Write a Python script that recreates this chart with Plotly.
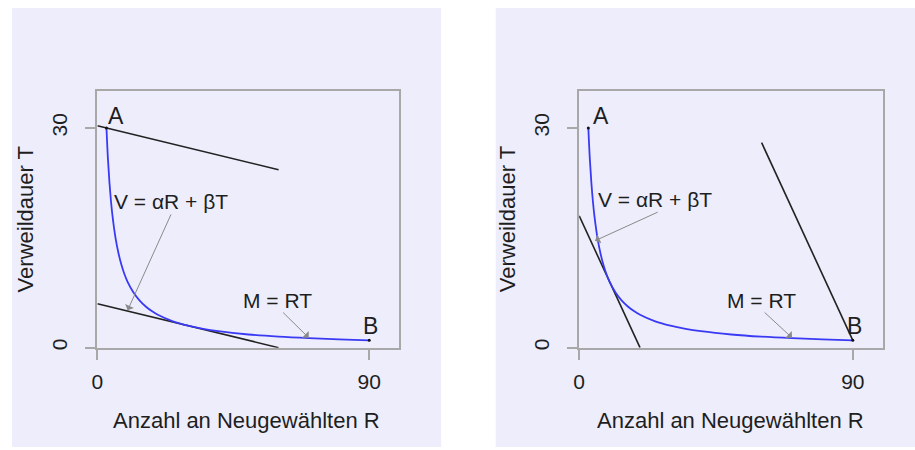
import plotly.graph_objects as go

W, H = 915, 450

# ---- data ----
M_value = 90
curve_R = [3, 3.5, 4, 4.5, 5, 6, 7, 8, 9, 10, 12, 14, 16, 18, 20, 25, 30, 35, 40, 50, 60, 70, 80, 90]
curve_T = [30, 25.71, 22.5, 20, 18, 15, 12.86, 11.25, 10, 9, 7.5, 6.43, 5.63, 5, 4.5, 3.6, 3, 2.57, 2.25, 1.8, 1.5, 1.29, 1.13, 1.0]

left_upper_R = [0, 60]
left_upper_T = [30.3, 24.3]
left_tangent_R = [0, 60]
left_tangent_T = [6, 0]

right_upper_R = [60, 90]
right_upper_T = [28, 1]
right_tangent_R = [0, 20]
right_tangent_T = [18, 0]

point_R = [3, 90]
point_T = [30, 1]

x_ticks = [0, 90]
y_ticks = [0, 30]
x_title = "Anzahl an Neugewählten R"
y_title = "Verweildauer T"
label_V = "V = αR + βT"
label_M = "M = RT"

FONT = "Liberation Sans, Arial, sans-serif"
LAV = "#EDEDFB"
GRAY = "#A8A8A8"
BLUE = "#3A3AF5"
TXT = "#1E1E1E"

def px(x):
    return x / W

def py(y):
    return 1 - y / H

fig = go.Figure()

panels = [
    dict(xa="x", ya="y", xdom=[px(92), px(396)], bg=(6, 8, 438, 450),
         upper=(left_upper_R, left_upper_T), tang=(left_tangent_R, left_tangent_T),
         vtext=(24.4, 19.9), vtail=(24.6, 18.4), vtip=(10, 5.1),
         mtext=(59.5, 6.4), mtail=(61, 5.0), mtip=(70, 1.35),
         A=(6.3, 31.6), B=(90.3, 2.9), cx=242),
    dict(xa="x2", ya="y2", xdom=[px(577), px(883)], bg=(493, 8, 915, 450),
         upper=(right_upper_R, right_upper_T), tang=(right_tangent_R, right_tangent_T),
         vtext=(25.0, 20.2), vtail=(26.3, 18.6), vtip=(5.2, 14.6),
         mtext=(59.8, 6.4), mtail=(60.5, 5.0), mtip=(70, 1.35),
         A=(7.3, 31.6), B=(90.7, 2.9), cx=729),
]

ydom = [py(350), py(92)]
shapes = []
annotations = []

for i, p in enumerate(panels):
    x0, y0, x1, y1 = p["bg"]
    shapes.append(dict(type="rect", xref="paper", yref="paper",
                       x0=px(x0), x1=px(x1), y0=py(y1), y1=py(y0),
                       fillcolor=LAV, line=dict(width=0), layer="below"))
    xa, ya = p["xa"], p["ya"]
    for (rr, tt) in (p["upper"], p["tang"]):
        fig.add_trace(go.Scatter(x=rr, y=tt, mode="lines", xaxis=xa, yaxis=ya,
                                 line=dict(color="#222222", width=1.6),
                                 showlegend=False, hoverinfo="skip"))
    fig.add_trace(go.Scatter(x=curve_R, y=curve_T, mode="lines", xaxis=xa, yaxis=ya,
                             line=dict(color=BLUE, width=1.8, shape="spline"),
                             showlegend=False, hoverinfo="skip"))
    fig.add_trace(go.Scatter(x=point_R, y=point_T, mode="markers", xaxis=xa, yaxis=ya,
                             marker=dict(color="#111111", size=3),
                             showlegend=False, hoverinfo="skip"))
    xr, yr = xa, ya
    for txt, pos, sz in ((label_V, p["vtext"], 21), (label_M, p["mtext"], 21),
                         ("A", p["A"], 23), ("B", p["B"], 23)):
        annotations.append(dict(x=pos[0], y=pos[1], xref=xr, yref=yr, text=txt,
                                showarrow=False, font=dict(family=FONT, size=sz, color=TXT),
                                xanchor="center", yanchor="middle"))
    for tail, tip in ((p["vtail"], p["vtip"]), (p["mtail"], p["mtip"])):
        annotations.append(dict(x=tip[0], y=tip[1], ax=tail[0], ay=tail[1],
                                xref=xr, yref=yr, axref=xr, ayref=yr, text="",
                                showarrow=True, arrowhead=1, arrowsize=1.6,
                                arrowwidth=1, arrowcolor="#8A8A8A", standoff=0))
    annotations.append(dict(x=px(p["cx"]), y=py(423), xref="paper", yref="paper",
                            text=x_title, showarrow=False,
                            font=dict(family=FONT, size=22, color=TXT),
                            xanchor="center", yanchor="middle"))
    ytx = 20 if i == 0 else 505
    annotations.append(dict(x=px(ytx), y=py(221), xref="paper", yref="paper",
                            text=y_title, showarrow=False, textangle=-90,
                            font=dict(family=FONT, size=22, color=TXT),
                            xanchor="center", yanchor="middle"))

axis_common = dict(showgrid=False, zeroline=False, showline=True, mirror=True,
                   linecolor=GRAY, linewidth=2, ticks="outside", ticklen=10,
                   tickcolor=GRAY, tickwidth=1.5,
                   tickfont=dict(family=FONT, size=21, color=TXT))

fig.update_layout(
    width=W, height=H,
    margin=dict(l=0, r=0, t=0, b=0),
    paper_bgcolor="white",
    plot_bgcolor="white",
    shapes=shapes,
    annotations=annotations,
    xaxis=dict(domain=panels[0]["xdom"], range=[0, 100], tickvals=x_ticks,
               anchor="y", ticklabelstandoff=4, **axis_common),
    yaxis=dict(domain=ydom, range=[0, 35], tickvals=y_ticks, anchor="x",
               tickangle=-90, ticklabelstandoff=10, **axis_common),
    xaxis2=dict(domain=panels[1]["xdom"], range=[0, 100], tickvals=x_ticks,
                anchor="y2", ticklabelstandoff=4, **axis_common),
    yaxis2=dict(domain=ydom, range=[0, 35], tickvals=y_ticks, anchor="x2",
                tickangle=-90, ticklabelstandoff=10, **axis_common),
)

fig.write_html("out.html", config={"displayModeBar": False},
               post_script="document.body.style.margin='0';")
